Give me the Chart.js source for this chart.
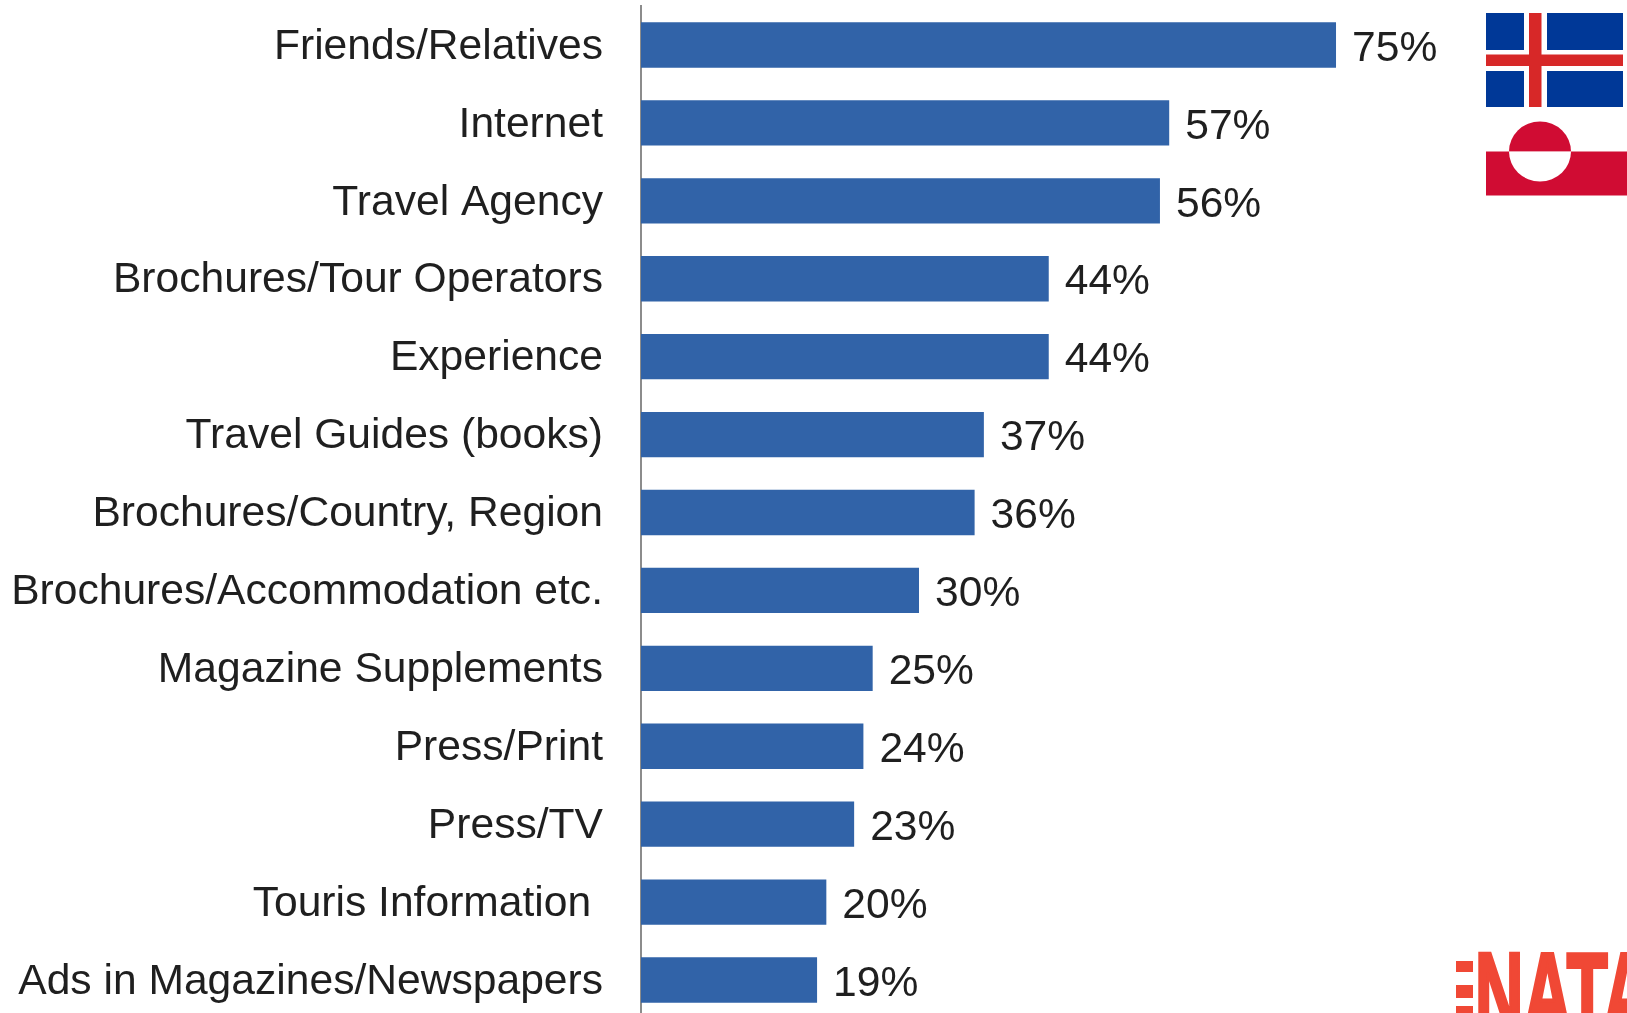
<!DOCTYPE html>
<html>
<head>
<meta charset="utf-8">
<title>Information sources</title>
<script src="https://cdn.jsdelivr.net/npm/chart.js@4"></script>
<style>
    html, body { margin: 0; padding: 0; background: #fff; overflow: hidden; width: 1627px; height: 1013px; }
    #wrap { position: relative; width: 1627px; height: 1013px; overflow: hidden; }
    #sources { position: absolute; left: 0; top: 0; }
    .overlay { position: absolute; left: 0; top: 0; }
    .soft { filter: blur(0.6px); }
</style>
</head>
<body>
<div id="wrap">
    <canvas id="sources" width="1627" height="1019"></canvas>
    <!-- Flags and the logo sit on top of the chart -->
    <svg class="overlay" width="1627" height="1013" viewBox="0 0 1627 1013">
        <g class="soft">
            <rect x="1486" y="13" width="137" height="94" fill="#003897"/>
            <rect x="1524" y="13" width="23" height="94" fill="#fff"/>
            <rect x="1486" y="50" width="137" height="21" fill="#fff"/>
            <rect x="1529" y="13" width="12.5" height="94" fill="#d72828"/>
            <rect x="1486" y="54.5" width="137" height="11.5" fill="#d72828"/>
        </g>
        <g class="soft">
            <rect x="1486" y="151.5" width="141" height="44" fill="#d00c33"/>
            <path d="M1509 151.5a31 30 0 0 1 62 0z" fill="#d00c33"/>
            <path d="M1509 151.5a31 30 0 0 0 62 0z" fill="#fff"/>
        </g>
        <g class="soft" fill="#f04835">
            <rect x="1456" y="961" width="17" height="11"/>
            <rect x="1456" y="985" width="17" height="13"/>
            <rect x="1456" y="1006" width="17" height="7"/>
            <text x="1475" y="1033" font-family="Liberation Sans" font-weight="700" font-size="115" stroke="#f04835" stroke-width="4" textLength="176" lengthAdjust="spacingAndGlyphs">NATA</text>
        </g>
    </svg>
</div>
<script>
// Share of respondents per information source
const categories = [
    'Friends/Relatives',
    'Internet',
    'Travel Agency',
    'Brochures/Tour Operators',
    'Experience',
    'Travel Guides (books)',
    'Brochures/Country, Region',
    'Brochures/Accommodation etc.',
    'Magazine Supplements',
    'Press/Print',
    'Press/TV',
    'Touris Information ',
    'Ads in Magazines/Newspapers'
];
const shares = [75, 57, 56, 44, 44, 37, 36, 30, 25, 24, 23, 20, 19];

const FONT = '"Liberation Sans", Arial, sans-serif';
const FONT_SIZE = 42.6;
const TEXT_COLOR = '#1f1f1f';

// Chart.js has no value labels of its own, so draw them after the bars
const valueLabels = {
    id: 'valueLabels',
    afterDatasetsDraw(chart) {
        const ctx = chart.ctx;
        const bars = chart.getDatasetMeta(0).data;
        ctx.save();
        ctx.font = FONT_SIZE + 'px ' + FONT;
        ctx.fillStyle = TEXT_COLOR;
        ctx.textAlign = 'left';
        ctx.textBaseline = 'middle';
        bars.forEach((bar, i) => {
            ctx.fillText(shares[i] + '%', bar.x + 16, bar.y + 4);
        });
        ctx.restore();
    }
};

new Chart(document.getElementById('sources').getContext('2d'), {
    type: 'bar',
    data: {
        labels: categories,
        datasets: [{
            data: shares,
            backgroundColor: '#3163a8',
            categoryPercentage: 1,
            barPercentage: 0.582
        }]
    },
    options: {
        indexAxis: 'y',
        responsive: false,
        animation: false,
        layout: { padding: { top: 6, left: 0, right: 0, bottom: 0 } },
        plugins: {
            legend: { display: false },
            title: { display: false },
            tooltip: { enabled: false }
        },
        scales: {
            x: {
                display: false,
                min: 0,
                max: 106.4
            },
            y: {
                // tick padding would otherwise also shrink the plot vertically
                afterFit(scale) {
                    scale.width = 641;
                    scale.paddingTop = 0;
                    scale.paddingBottom = 0;
                },
                grid: { display: true, drawOnChartArea: false, drawTicks: false },
                border: { display: true, color: '#8c8c8c', width: 2 },
                ticks: {
                    autoSkip: false,
                    padding: 38,
                    labelOffset: 2,
                    color: TEXT_COLOR,
                    font: { family: FONT, size: FONT_SIZE }
                }
            }
        }
    },
    plugins: [valueLabels]
});
</script>
</body>
</html>
